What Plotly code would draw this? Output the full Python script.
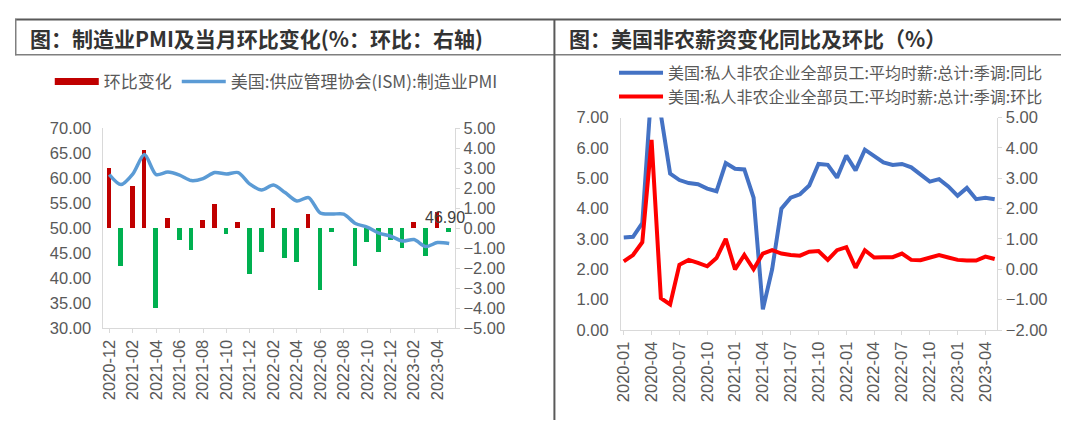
import plotly.graph_objects as go

# ---------------- data ----------------
left_months = []
y0, m0 = 2020, 12
for i in range(30):
    mm = (m0 - 1 + i) % 12 + 1
    yy = y0 + (m0 - 1 + i) // 12
    left_months.append(f"{yy}-{mm:02d}")

pmi = [60.7, 58.7, 60.8, 64.7, 60.7, 61.2, 60.6, 59.5, 59.9, 61.1, 60.8, 61.1,
       58.8, 57.6, 58.6, 57.1, 55.4, 56.1, 53.0, 52.8, 52.8, 50.9, 50.2, 49.0,
       48.4, 47.4, 47.7, 46.3, 47.1, 46.9]
pmi_chg = [3.0, -1.9, 2.1, 3.9, -4.0, 0.5, -0.6, -1.1, 0.4, 1.2, -0.3, 0.3,
           -2.3, -1.2, 1.0, -1.5, -1.7, 0.7, -3.1, -0.2, 0.0, -1.9, -0.7, -1.2,
           -0.6, -1.0, 0.3, -1.4, 0.8, -0.2]

right_months = []
for i in range(41):
    mm = i % 12 + 1
    yy = 2020 + i // 12
    right_months.append(f"{yy}-{mm:02d}")

wage_yoy = [3.05, 3.07, 3.52, 8.0, 7.1, 5.15, 4.94, 4.84, 4.8, 4.66, 4.57, 5.5,
            5.31, 5.29, 4.36, 0.68, 2.0, 4.0, 4.36, 4.47, 4.76, 5.47, 5.44, 5.02,
            5.75, 5.26, 5.94, 5.73, 5.52, 5.44, 5.47, 5.36, 5.12, 4.89, 4.97, 4.73,
            4.42, 4.68, 4.31, 4.36, 4.31]
wage_mom = [0.26, 0.47, 0.89, 4.26, -0.95, -1.16, 0.15, 0.31, 0.21, 0.1, 0.37, 1.0,
            0.0, 0.47, 0.0, 0.52, 0.63, 0.52, 0.47, 0.45, 0.58, 0.6, 0.31, 0.63,
            0.73, 0.05, 0.63, 0.39, 0.4, 0.4, 0.52, 0.31, 0.3, 0.4, 0.47, 0.39,
            0.31, 0.29, 0.29, 0.42, 0.34]

left_title = "图：制造业PMI及当月环比变化(%：环比：右轴)"
right_title = "图：美国非农薪资变化同比及环比（%）"
name_chg = "环比变化"
name_pmi = "美国:供应管理协会(ISM):制造业PMI"
name_yoy = "美国:私人非农企业全部员工:平均时薪:总计:季调:同比"
name_mom = "美国:私人非农企业全部员工:平均时薪:总计:季调:环比"

# ---------------- style ----------------
# the page body has an 8px margin, so the figure is laid out 8px smaller
OFF = 8
W, H = 1069 - OFF, 429 - OFF
def px(x): return (x - OFF) / W
def py(y): return 1 - (y - OFF) / H

RED_BAR = "#C00000"
GREEN_BAR = "#00B050"
PMI_BLUE = "#5B9BD5"
YOY_BLUE = "#4472C4"
MOM_RED = "#FF0000"
AX = "#D9D9D9"
TXT = "#595959"
TICKFONT = dict(family="Liberation Sans, Arial", size=16.5, color=TXT)
CJK = "Noto Sans CJK SC"

lx = list(range(len(pmi)))
rx = list(range(len(wage_yoy)))

fig = go.Figure()
# bars (legend shown through a proxy entry drawn as a wide red swatch)
fig.add_trace(go.Bar(
    x=lx, y=pmi_chg, width=0.4, name=name_chg, showlegend=False,
    marker=dict(color=[RED_BAR if v >= 0 else GREEN_BAR for v in pmi_chg], line_width=0),
    xaxis="x", yaxis="y"))
fig.add_trace(go.Scatter(
    x=[None], y=[None], mode="lines", name=name_chg,
    line=dict(color=RED_BAR, width=7), xaxis="x", yaxis="y", legend="legend"))
fig.add_trace(go.Scatter(
    x=lx, y=pmi, mode="lines", name=name_pmi,
    line=dict(color=PMI_BLUE, width=3.5, shape="spline", smoothing=0.8),
    xaxis="x", yaxis="y2", legend="legend"))
fig.add_trace(go.Scatter(
    x=rx, y=wage_yoy, mode="lines", name=name_yoy,
    line=dict(color=YOY_BLUE, width=4),
    xaxis="x2", yaxis="y3", legend="legend2"))
fig.add_trace(go.Scatter(
    x=rx, y=wage_mom, mode="lines", name=name_mom,
    line=dict(color=MOM_RED, width=4),
    xaxis="x2", yaxis="y4", legend="legend2"))

common_x = dict(showgrid=False, zeroline=False, showline=True, linecolor=AX, linewidth=1,
                ticks="outside", ticklen=4, tickcolor=AX, tickangle=-90, tickfont=TICKFONT)
common_y = dict(showgrid=False, zeroline=False, showline=True, linecolor=AX, linewidth=1,
                tickformat=".2f", tickfont=TICKFONT)

fig.update_layout(
    width=W, height=H, margin=dict(l=0, r=0, t=0, b=0),
    paper_bgcolor="white", plot_bgcolor="white",
    bargap=0,
    xaxis=dict(domain=[px(97), px(451)], anchor="y", range=[-0.5, len(pmi) - 0.5],
               tickvals=lx[::2], ticktext=left_months[::2], **common_x),
    yaxis=dict(domain=[py(333), py(124)], anchor="x", side="right", range=[-5, 5], dtick=1,
               ticks="outside", ticklen=4, tickcolor=AX, **common_y),
    yaxis2=dict(overlaying="y", anchor="x", side="left", range=[30, 70], dtick=5,
                ticks="", ticklabelstandoff=8, **common_y),
    xaxis2=dict(domain=[px(618), px(997)], anchor="y3", range=[-0.3, len(wage_yoy) - 0.7],
                tickvals=rx[::3], ticktext=right_months[::3], **common_x),
    yaxis3=dict(domain=[py(335), py(113)], anchor="x2", side="left", range=[0, 7], dtick=1,
                ticks="", ticklabelstandoff=8, **common_y),
    yaxis4=dict(overlaying="y3", anchor="x2", side="right", range=[-2, 5], dtick=1,
                ticks="outside", ticklen=4, tickcolor=AX, **common_y),
    legend=dict(orientation="h", x=px(43), y=py(57), xanchor="left", yanchor="top",
                font=dict(family=CJK, size=17, color=TXT), bgcolor="rgba(0,0,0,0)",
                borderwidth=0, tracegroupgap=0, itemwidth=44),
    legend2=dict(orientation="v", x=px(611), y=py(48.5), xanchor="left", yanchor="top",
                 font=dict(family=CJK, size=16, color=TXT), bgcolor="rgba(0,0,0,0)",
                 borderwidth=0, tracegroupgap=0, itemwidth=44),
    showlegend=True,
)

# data label on last PMI point
fig.add_annotation(x=lx[-1], y=pmi[-1], xref="x", yref="y2", text=f"{pmi[-1]:.2f}",
                   showarrow=False, yshift=26, xshift=-4,
                   font=dict(family="Liberation Sans, Arial", size=16, color="#404040"))

# panel titles
fig.add_annotation(x=px(21), y=py(30), xref="paper", yref="paper", text=left_title,
                   showarrow=False, xanchor="left", yanchor="middle",
                   font=dict(family=CJK, size=21, color="#333333", weight="bold"))
fig.add_annotation(x=px(564), y=py(30), xref="paper", yref="paper", text=right_title,
                   showarrow=False, xanchor="left", yanchor="middle",
                   font=dict(family=CJK, size=21, color="#333333", weight="bold"))

# frame lines
shapes = [
    dict(type="line", x0=px(8), x1=1, y0=py(10.5), y1=py(10.5), line=dict(color="#595959", width=2)),
    dict(type="line", x0=px(8), x1=1, y0=py(47.5), y1=py(47.5), line=dict(color="#7F7F7F", width=1.5)),
    dict(type="line", x0=px(8.75), x1=px(8.75), y0=py(10), y1=py(48), line=dict(color="#7F7F7F", width=1.5)),
    dict(type="line", x0=px(551), x1=px(551), y0=py(10), y1=0, line=dict(color="#595959", width=2)),
]
for s in shapes:
    s.update(xref="paper", yref="paper", layer="above")
fig.update_layout(shapes=shapes)

fig.write_html("out.html")
